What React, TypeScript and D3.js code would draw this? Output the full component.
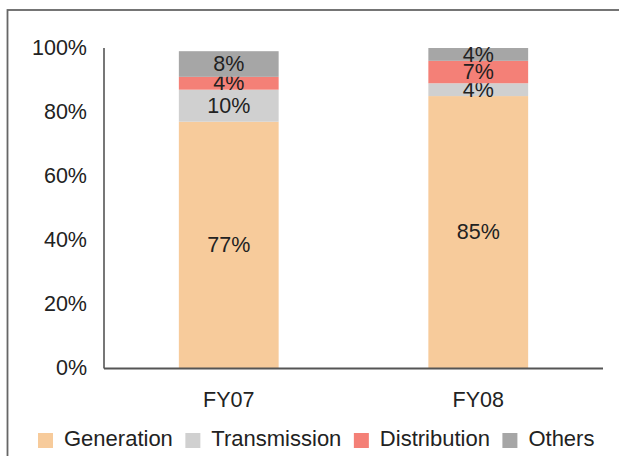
import React, { useEffect, useRef } from "react";
import * as d3 from "d3";

// Share of capex by segment, per fiscal year (in %)
const years = ["FY07", "FY08"];
const segments = ["Generation", "Transmission", "Distribution", "Others"];
const generation = [77, 85];
const transmission = [10, 4];
const distribution = [4, 7];
const others = [8, 4];
const segmentColors = ["#F7CB9B", "#D0D0D0", "#F48077", "#A6A6A6"];
const yTicks = [0, 20, 40, 60, 80, 100];

const FONT = "'Liberation Sans', Arial, Helvetica, sans-serif";

const App = () => {
  const ref = useRef<SVGSVGElement>(null);

  useEffect(() => {
    const svg = d3.select(ref.current);
    svg.selectAll("*").remove();

    const width = 619;
    const height = 456;
    const margin = { top: 48, right: 16, bottom: 87, left: 104 };

    // outer frame (runs off the right and bottom edges)
    svg
      .append("rect")
      .attr("x", 7.5)
      .attr("y", 10)
      .attr("width", width + 20)
      .attr("height", height + 20)
      .attr("fill", "white")
      .attr("stroke", "#666")
      .attr("stroke-width", 1.8);

    const x = d3
      .scaleBand()
      .domain(years)
      .range([margin.left, width - margin.right])
      .paddingInner(0.6)
      .paddingOuter(0.3);
    const y = d3
      .scaleLinear()
      .domain([0, 100])
      .range([height - margin.bottom - 0.5, margin.top]);

    const table = years.map((yr, i) => ({
      year: yr,
      Generation: generation[i],
      Transmission: transmission[i],
      Distribution: distribution[i],
      Others: others[i],
    }));
    const stack = d3.stack<any>().keys(segments)(table);

    const g = svg.append("g");
    stack.forEach((layer, li) => {
      g.selectAll(`.bar-${li}`)
        .data(layer)
        .enter()
        .append("rect")
        .attr("x", (d) => x(d.data.year)!)
        .attr("width", x.bandwidth())
        .attr("y", (d) => y(d[1]))
        .attr("height", (d) => y(d[0]) - y(d[1]))
        .attr("fill", segmentColors[li]);
      g.selectAll(`.lbl-${li}`)
        .data(layer)
        .enter()
        .append("text")
        .attr("x", (d) => x(d.data.year)! + x.bandwidth() / 2)
        .attr("y", (d) => (y(d[0]) + y(d[1])) / 2)
        .attr("dy", "0.33em")
        .attr("text-anchor", "middle")
        .attr("font-family", FONT)
        .attr("font-size", 21.5)
        .attr("fill", "#222")
        .text((d) => `${d[1] - d[0]}%`);
    });

    // axes
    const axisColor = "#555";
    svg
      .append("line")
      .attr("x1", margin.left)
      .attr("x2", margin.left)
      .attr("y1", y(100))
      .attr("y2", y(0))
      .attr("stroke", axisColor)
      .attr("stroke-width", 1.6);
    svg
      .append("line")
      .attr("x1", margin.left)
      .attr("x2", width - margin.right)
      .attr("y1", y(0))
      .attr("y2", y(0))
      .attr("stroke", axisColor)
      .attr("stroke-width", 1.8);

    svg
      .selectAll(".ytick")
      .data(yTicks)
      .enter()
      .append("text")
      .attr("x", margin.left - 17)
      .attr("y", (d) => y(d))
      .attr("dy", "0.32em")
      .attr("text-anchor", "end")
      .attr("font-family", FONT)
      .attr("font-size", 21.5)
      .attr("fill", "#222")
      .text((d) => `${d}%`);

    svg
      .selectAll(".xtick")
      .data(years)
      .enter()
      .append("text")
      .attr("x", (d) => x(d)! + x.bandwidth() / 2)
      .attr("y", 407)
      .attr("text-anchor", "middle")
      .attr("font-family", FONT)
      .attr("font-size", 21.5)
      .attr("fill", "#222")
      .text((d) => d);

    // legend, laid out by measured text widths
    let lx = 38;
    segments.forEach((name, i) => {
      svg
        .append("rect")
        .attr("x", lx)
        .attr("y", 433)
        .attr("width", 15)
        .attr("height", 15)
        .attr("fill", segmentColors[i]);
      const t = svg
        .append("text")
        .attr("x", lx + 26)
        .attr("y", 446)
        .attr("font-family", FONT)
        .attr("font-size", 22)
        .attr("fill", "#222")
        .text(name);
      const w = (t.node() as SVGTextElement).getComputedTextLength();
      lx = lx + 26 + w + 12.5;
    });
  }, []);

  return (
    <svg
      ref={ref}
      width={619}
      height={456}
      style={{ position: "absolute", left: 0, top: 0 }}
    />
  );
};

export default App;
